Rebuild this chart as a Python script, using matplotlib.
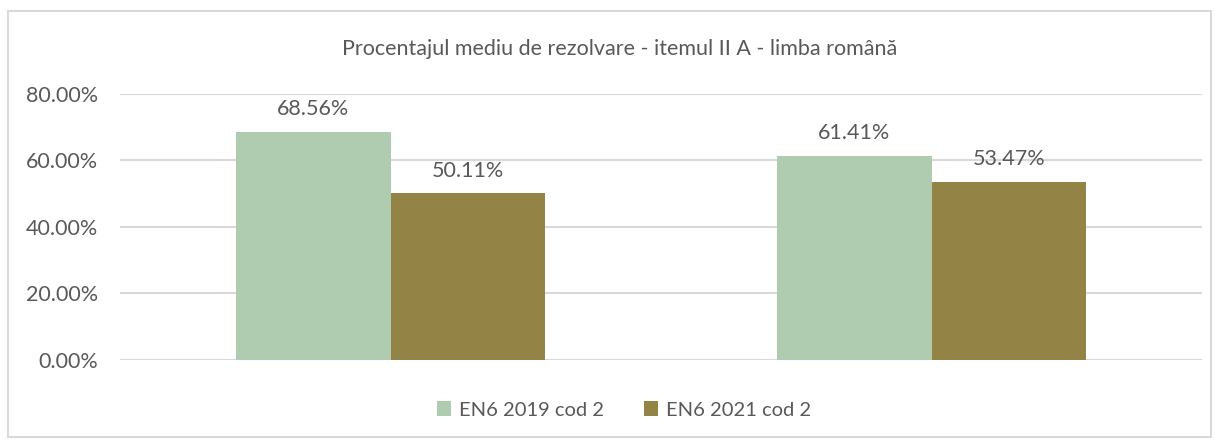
import matplotlib
matplotlib.use('Agg')
import matplotlib.pyplot as plt
import matplotlib.patches as patches
import numpy as np

# Data
categories = ['', '']
series_names = ['EN6 2019 cod 2', 'EN6 2021 cod 2']
values_2019 = [68.56, 61.41]
values_2021 = [50.11, 53.47]
y_ticks = [0, 20, 40, 60, 80]
title = 'Procentajul mediu de rezolvare - itemul II A - limba română'

GREEN = '#AFCCB0'
BROWN = '#938446'
TEXT = '#595959'
GRID = '#D9D9D9'

plt.rcParams['font.family'] = ['Lato', 'DejaVu Sans']


def main():
    fig = plt.figure(figsize=(12.2, 4.41), dpi=100)

    # Outer chart border like the spreadsheet chart frame.
    fig.patches.append(patches.Rectangle((8 / 1220, 4 / 441), 1203 / 1220, 426 / 441,
                                         transform=fig.transFigure, fill=False,
                                         edgecolor=GRID, linewidth=1.5))

    ax = fig.add_axes([120 / 1220, 81.5 / 441, 1082 / 1220, 265.7 / 441])
    x = np.arange(len(categories))
    width = 0.2856
    bars1 = ax.bar(x - width / 2, values_2019, width, color=GREEN, label=series_names[0], zorder=2)
    bars2 = ax.bar(x + width / 2, values_2021, width, color=BROWN, label=series_names[1], zorder=2)

    for bars in (bars1, bars2):
        ax.bar_label(bars, labels=['%.2f%%' % b.get_height() for b in bars],
                     padding=9, color=TEXT, fontsize=15.5)

    ax.set_xlim(-0.5, 1.5)
    ax.set_ylim(0, 80)
    ax.set_yticks(y_ticks)
    ax.set_yticklabels(['%.2f%%' % t for t in y_ticks], color=TEXT, fontsize=15.5)
    ax.set_xticks([])
    ax.tick_params(axis='y', length=0, pad=16)
    ax.yaxis.grid(True, color=GRID, linewidth=1.5, zorder=0)
    ax.set_axisbelow(True)
    for side in ['top', 'right', 'left', 'bottom']:
        ax.spines[side].set_visible(False)

    fig.text(620 / 1220, 1 - 49 / 441, title, ha='center', va='center', color=TEXT, fontsize=15.5)

    fig.legend(loc='center', bbox_to_anchor=(624 / 1220, 1 - 410 / 441), ncol=2, frameon=False,
               fontsize=14.5, labelcolor=TEXT, handlelength=0.7, handleheight=0.7,
               handletextpad=0.4, columnspacing=2.0)

    fig.savefig('out.png', dpi=100)


if __name__ == '__main__':
    main()
